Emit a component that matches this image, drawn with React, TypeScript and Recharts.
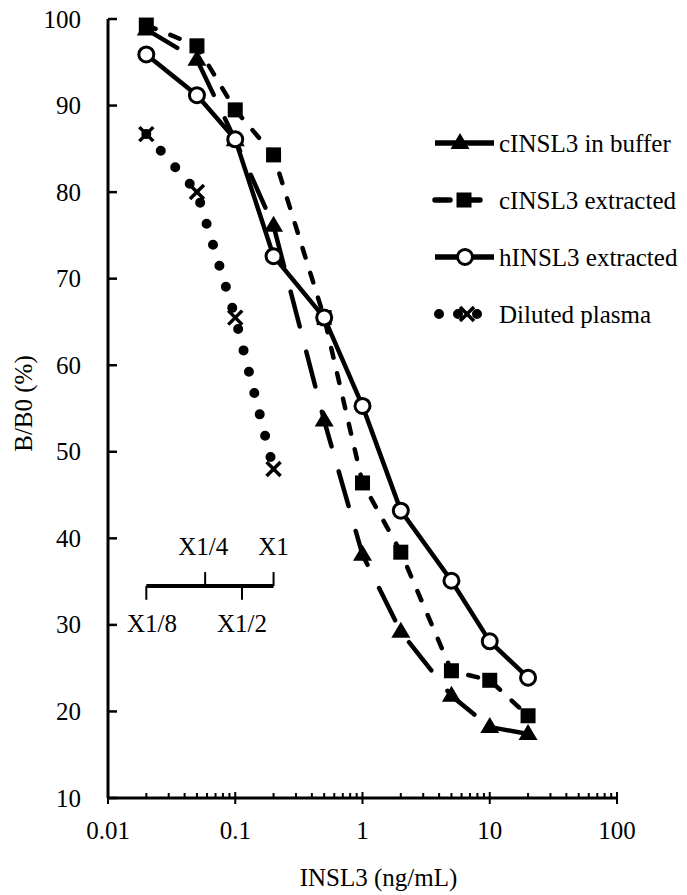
import React from 'react';
import {
  LineChart, Line, XAxis, YAxis, Legend, ReferenceLine, ReferenceDot, Label,
} from 'recharts';

// INSL3 concentration (ng/mL) of the standards
const concentrations = [0.02, 0.05, 0.1, 0.2, 0.5, 1, 2, 5, 10, 20];
// B/B0 (%) per standard curve
const bufferValues = [98.8, 95.3, 86.0, 76.1, 53.6, 38.1, 29.2, 21.8, 18.2, 17.4];
const cExtractedValues = [99.3, 96.9, 89.5, 84.3, 65.5, 46.4, 38.4, 24.7, 23.6, 19.5];
const hExtractedValues = [95.9, 91.2, 86.1, 72.6, 65.5, 55.3, 43.2, 35.1, 28.1, 23.9];
// plasma dilution series (X1/8 .. X1), plotted on the same x scale
const plasmaPositions = [0.02, 0.05, 0.1, 0.2];
const plasmaValues = [86.7, 80.0, 65.5, 48.0];

// dilution scale bar drawn under the plasma curve
const dilutionLabels = ['X1/8', 'X1/4', 'X1/2', 'X1'];
const dilutionTicks = [0.02, 0.058, 0.113, 0.2];
const dilutionLabelX = [0.0222, 0.056, 0.113, 0.2];
const dilutionAbove = [false, true, false, true];
const dilutionBarY = 34.5;

const xDecades = [0.01, 0.1, 1, 10, 100];
const yTicks = [10, 20, 30, 40, 50, 60, 70, 80, 90, 100];
const xTicks = [
  ...xDecades,
  ...xDecades.slice(0, -1).flatMap((d) => [2, 3, 4, 5, 6, 7, 8, 9].map((m) => m * d)),
];

const FONT = '"Liberation Serif", "Times New Roman", serif';
const FS = 25;

const toPoints = (xs: number[], ys: number[]) => xs.map((x, i) => ({ x, y: ys[i] }));

const bufferData = toPoints(concentrations, bufferValues);
const cExtractedData = toPoints(concentrations, cExtractedValues);
const hExtractedData = toPoints(concentrations, hExtractedValues);
const plasmaData = toPoints(plasmaPositions, plasmaValues);

const LW = 4.5;
const LONG_DASH = '36 26';
const SHORT_DASH = '10 16';
const DOTS = '0 22';

const Tri = ({ cx, cy }: { cx: number; cy: number }) => (
  <polygon points={`${cx},${cy - 10} ${cx + 9.5},${cy + 6} ${cx - 9.5},${cy + 6}`} fill="#000" />
);
const Sq = ({ cx, cy }: { cx: number; cy: number }) => (
  <rect x={cx - 7.5} y={cy - 7.5} width={15} height={15} fill="#000" />
);
const Circ = ({ cx, cy }: { cx: number; cy: number }) => (
  <circle cx={cx} cy={cy} r={7.5} fill="#fff" stroke="#000" strokeWidth={3} />
);
const Cross = ({ cx, cy }: { cx: number; cy: number }) => (
  <g stroke="#000" strokeWidth={3.5}>
    <line x1={cx - 7} y1={cy - 7} x2={cx + 7} y2={cy + 7} />
    <line x1={cx - 7} y1={cy + 7} x2={cx + 7} y2={cy - 7} />
  </g>
);

const dotOf = (Shape: any, tag: string) => (p: any) => (
  <g key={`${tag}-${p.index}`}>
    <Shape cx={p.cx} cy={p.cy} />
  </g>
);

const XTick = (props: any) => {
  const { x, y, payload } = props;
  const major = xDecades.includes(payload.value);
  return (
    <g>
      <line x1={x} x2={x} y1={major ? y - 6 : y - 5} y2={major ? y + 6 : y} stroke="#000" strokeWidth={2} />
      {major && (
        <text x={x} y={y + 41} textAnchor="middle" fontSize={FS} fontFamily={FONT} fill="#000">
          {payload.value}
        </text>
      )}
    </g>
  );
};

const YTick = (props: any) => {
  const { x, y, payload } = props;
  return (
    <g>
      <line x1={x} x2={x + 9} y1={y} y2={y} stroke="#000" strokeWidth={2.5} />
      <text x={x - 27} y={y + 8.5} textAnchor="end" fontSize={FS} fontFamily={FONT} fill="#000">
        {payload.value}
      </text>
    </g>
  );
};

const legendRows = [
  { name: 'cINSL3 in buffer', kind: 'solid', Shape: Tri, markX: 30 },
  { name: 'cINSL3 extracted', kind: 'dash', Shape: Sq, markX: 34 },
  { name: 'hINSL3 extracted', kind: 'solid', Shape: Circ, markX: 35 },
  { name: 'Diluted plasma', kind: 'dots', Shape: Cross, markX: 37 },
];

const LegendBox = () => (
  <svg width={257} height={230}>
    {legendRows.map((r, i) => {
      const cy = 23 + i * 57;
      const dotted = r.kind === 'dots';
      return (
        <g key={r.name}>
          <line
            x1={dotted ? 9 : 5}
            x2={dotted ? 48 : r.kind === 'dash' ? 59 : 64}
            y1={cy}
            y2={cy}
            stroke="#000"
            strokeWidth={dotted ? 10 : LW + 1}
            strokeDasharray={r.kind === 'solid' ? undefined : dotted ? '0 19' : '15 15'}
            strokeLinecap={r.kind === 'solid' ? 'butt' : 'round'}
          />
          <r.Shape cx={r.markX} cy={cy} />
          <text x={69} y={cy + 8.5} fontSize={FS} fontFamily={FONT} fill="#000">{r.name}</text>
        </g>
      );
    })}
  </svg>
);

const TextMark = (label: string) => (p: any) => (
  <text x={p.cx} y={p.cy + 8.5} textAnchor="middle" fontSize={FS} fontFamily={FONT} fill="#000">
    {label}
  </text>
);

export default function App() {
  return (
    <div style={{ position: 'absolute', left: 0, top: 0, background: '#fff' }}>
      <LineChart width={687} height={895} margin={{ top: 19, right: 70, left: 0, bottom: 0 }}>
        <XAxis
          dataKey="x"
          type="number"
          scale="log"
          domain={[0.01, 100]}
          ticks={xTicks}
          interval={0}
          allowDataOverflow
          height={97}
          tickSize={0}
          tickMargin={0}
          tick={<XTick />}
          axisLine={{ stroke: '#000', strokeWidth: 3 }}
          tickLine={false}
        >
          <Label
            content={(p: any) => (
              <text
                x={p.viewBox.x + p.viewBox.width / 2 + 16}
                y={p.viewBox.y + 88}
                textAnchor="middle"
                fontSize={FS}
                fontFamily={FONT}
                fill="#000"
              >
                INSL3 (ng/mL)
              </text>
            )}
          />
        </XAxis>
        <YAxis
          type="number"
          domain={[10, 100]}
          ticks={yTicks}
          interval={0}
          width={108}
          tickSize={0}
          tickMargin={0}
          tick={<YTick />}
          axisLine={{ stroke: '#000', strokeWidth: 3 }}
          tickLine={false}
        >
          <Label
            content={(p: any) => {
              const cx = p.viewBox.x + 23;
              const cy = p.viewBox.y + p.viewBox.height / 2 - 5;
              return (
                <text
                  x={cx}
                  y={cy}
                  transform={`rotate(-90 ${cx} ${cy})`}
                  textAnchor="middle"
                  dominantBaseline="central"
                  fontSize={FS}
                  fontFamily={FONT}
                  fill="#000"
                >
                  B/B0 (%)
                </text>
              );
            }}
          />
        </YAxis>
        <Legend
          layout="vertical"
          align="center"
          verticalAlign="middle"
          wrapperStyle={{ left: 430, top: 120, width: 257 }}
          content={<LegendBox />}
        />

        {/* dilution scale */}
        <ReferenceLine
          segment={[{ x: dilutionTicks[0], y: dilutionBarY }, { x: dilutionTicks[3], y: dilutionBarY }]}
          stroke="#000"
          strokeWidth={4}
        />
        {dilutionTicks.map((t, i) => (
          <ReferenceLine
            key={`dt-${i}`}
            segment={[{ x: t, y: dilutionBarY }, { x: t, y: dilutionAbove[i] ? dilutionBarY + 1.6 : dilutionBarY - 1.6 }]}
            stroke="#000"
            strokeWidth={2}
          />
        ))}
        {dilutionLabels.map((l, i) => (
          <ReferenceDot
            key={`dl-${i}`}
            x={dilutionLabelX[i]}
            y={dilutionAbove[i] ? 39.0 : 30.2}
            r={0}
            shape={TextMark(l)}
          />
        ))}

        <Line
          data={bufferData}
          dataKey="y"
          type="linear"
          stroke="#000"
          strokeWidth={LW}
          strokeDasharray={LONG_DASH}
          strokeLinecap="round"
          dot={dotOf(Tri, 'tri')}
          activeDot={false}
          isAnimationActive={false}
          name="cINSL3 in buffer"
        />
        <Line
          data={cExtractedData}
          dataKey="y"
          type="linear"
          stroke="#000"
          strokeWidth={LW}
          strokeDasharray={SHORT_DASH}
          strokeLinecap="round"
          dot={dotOf(Sq, 'sq')}
          activeDot={false}
          isAnimationActive={false}
          name="cINSL3 extracted"
        />
        <Line
          data={hExtractedData}
          dataKey="y"
          type="linear"
          stroke="#000"
          strokeWidth={LW}
          dot={dotOf(Circ, 'ci')}
          activeDot={false}
          isAnimationActive={false}
          name="hINSL3 extracted"
        />
        <Line
          data={plasmaData}
          dataKey="y"
          type="linear"
          stroke="#000"
          strokeWidth={10}
          strokeDasharray={DOTS}
          strokeLinecap="round"
          dot={dotOf(Cross, 'x')}
          activeDot={false}
          isAnimationActive={false}
          name="Diluted plasma"
        />
      </LineChart>
    </div>
  );
}
